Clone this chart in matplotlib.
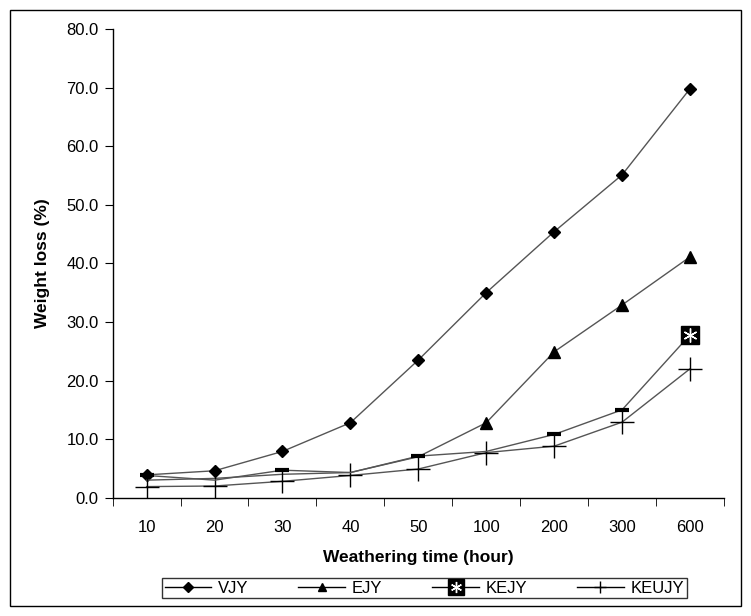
import numpy as np
import matplotlib.pyplot as plt
from matplotlib.patches import Rectangle
from matplotlib.legend_handler import HandlerTuple
from matplotlib.lines import Line2D

plt.rcParams['font.family'] = ['Liberation Sans', 'DejaVu Sans']

hours = ['10', '20', '30', '40', '50', '100', '200', '300', '600']
vjy = [3.9, 4.6, 7.9, 12.8, 23.5, 35.0, 45.4, 55.1, 69.8]
ejy = [3.0, 3.3, 4.0, 4.3, 7.0, 12.8, 24.9, 32.9, 41.1]
kejy = [3.8, 3.0, 4.7, 4.3, 7.1, 7.9, 10.8, 15.0, 27.8]
keujy = [1.9, 2.0, 2.8, 3.8, 4.9, 7.7, 8.8, 12.9, 22.0]

x = np.arange(len(hours))
line_c = '#555555'

fig = plt.figure(figsize=(7.51, 6.16), dpi=100)
ax = fig.add_axes([0.150, 0.192, 0.814, 0.761])

ax.plot(x, vjy, color=line_c, lw=1, marker='D', ms=6, mfc='black', mec='black')
# low EJY triangles are hidden under the other series in the original
ax.plot(x, ejy, color=line_c, lw=1, marker='^', ms=8, mfc='black', mec='black',
        markevery=[5, 6, 7, 8])
ax.plot(x, keujy, color=line_c, lw=1, marker='+', ms=17, mew=1, mec='black')
ax.plot(x, kejy, color=line_c, lw=1)
# KEJY markers: only partly visible in the original except the last one
bars = [0, 2, 4, 6, 7]
ax.plot(x[bars], np.array(kejy)[bars], ls='none', marker='_', ms=10, mew=3, mec='black')
ax.plot(x[-1:], kejy[-1:], ls='none', marker='s', ms=13, mfc='black', mec='black')
ax.plot(x[-1:], kejy[-1:], ls='none', marker=(6, 2, 0), ms=10, mew=1, mec='white')

ax.set_xlim(-0.5, 8.5)
ax.set_ylim(0, 80)
ax.set_xticks(x)
ax.set_xticklabels(hours)
ax.set_xticks(np.arange(-0.5, 9, 1), minor=True)
ax.tick_params(axis='x', which='major', length=0, pad=16, labelsize=12)
ax.tick_params(axis='x', which='minor', length=6, direction='out', color='black')
ax.set_yticks(np.arange(0, 81, 10))
ax.set_yticklabels([f'{v:.1f}' for v in range(0, 81, 10)])
ax.tick_params(axis='y', length=6, direction='out', labelsize=12, pad=4)
for s in ['top', 'right']:
    ax.spines[s].set_visible(False)
ax.spines['left'].set_linewidth(1)
ax.spines['bottom'].set_linewidth(1)

ax.set_xlabel('Weathering time (hour)', fontsize=12.5, fontweight='bold', labelpad=11)
ax.set_ylabel('Weight loss (%)', fontsize=12.5, fontweight='bold', labelpad=12)

h1 = Line2D([], [], color='black', lw=1, marker='D', ms=5, mfc='black')
h2 = Line2D([], [], color='black', lw=1, marker='^', ms=6, mfc='black')
h3a = Line2D([], [], color='black', lw=1, marker='s', ms=11, mfc='black', mec='black')
h3b = Line2D([], [], ls='none', marker=(6, 2, 0), ms=8, mec='white', mew=1)
h4 = Line2D([], [], color='black', lw=1, marker='+', ms=9, mec='black')
leg = fig.legend([h1, h2, (h3a, h3b), h4], ['VJY', 'EJY', 'KEJY', 'KEUJY'],
                 handler_map={tuple: HandlerTuple(ndivide=1)},
                 loc='center', bbox_to_anchor=(0.565, 0.045), ncol=4,
                 fontsize=12, frameon=True, fancybox=False, edgecolor='black',
                 handlelength=2.8, columnspacing=3.0, handletextpad=0.4,
                 borderpad=0.15, borderaxespad=0)
leg.get_frame().set_linewidth(1)

fig.patches.append(Rectangle((0.013, 0.016), 0.974, 0.968, transform=fig.transFigure,
                             fill=False, edgecolor='black', lw=1))

fig.savefig('out.png', dpi=100)
